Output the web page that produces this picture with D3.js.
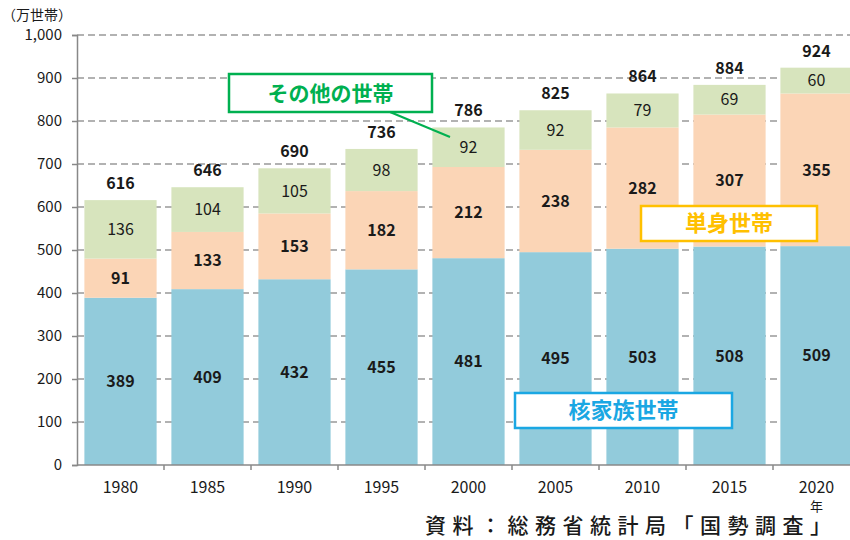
<!DOCTYPE html>
<html>
<head>
<meta charset="utf-8">
<script src="https://cdn.jsdelivr.net/npm/d3@7"></script>
<style>
    body { margin: 0; background: white; }
    svg { display: block; font-family: "Noto Sans CJK JP", "Noto Sans", sans-serif; }
</style>
</head>
<body>
<svg></svg>
<script>
"use strict";

var years = ['1980', '1985', '1990', '1995', '2000', '2005', '2010', '2015', '2020'];
var nuclear = [389, 409, 432, 455, 481, 495, 503, 508, 509];
var single = [91, 133, 153, 182, 212, 238, 282, 307, 355];
var other = [136, 104, 105, 98, 92, 92, 79, 69, 60];
var totals = [616, 646, 690, 736, 786, 825, 864, 884, 924];
var yTicks = [0, 100, 200, 300, 400, 500, 600, 700, 800, 900, 1000];

var settings = {
    svg: { width: 850, height: 540 },
    plot: { left: 77, top: 35, bottom: 465, right: 860 },
    colors: {
        nuclear: '#92cbdb',
        single: '#fbd5b6',
        other: '#d7e4bd',
        grid: '#999',
        axis: '#888',
        text: '#1a1a1a'
    }
};

var svg = d3.select('svg')
    .attr('width', settings.svg.width)
    .attr('height', settings.svg.height);

var x = d3.scaleBand()
    .domain(years)
    .range([settings.plot.left, settings.plot.right])
    .paddingInner(0.17)
    .paddingOuter(0.085);

var y = d3.scaleLinear()
    .domain([0, 1000])
    .range([settings.plot.bottom, settings.plot.top]);

// dashed grid behind the bars
svg.append('g')
    .selectAll('line')
    .data(yTicks.slice(1))
    .enter()
    .append('line')
    .attr('x1', settings.plot.left)
    .attr('x2', settings.svg.width)
    .attr('y1', d => y(d))
    .attr('y2', d => y(d))
    .attr('stroke', settings.colors.grid)
    .attr('stroke-width', 1.5)
    .attr('stroke-dasharray', '7,4');

// stacked segments
var stackData = years.map((yr, i) => ({
    year: yr, nuclear: nuclear[i], single: single[i], other: other[i], total: totals[i]
}));
var keys = ['nuclear', 'single', 'other'];
var series = d3.stack().keys(keys)(stackData);

var layers = svg.append('g')
    .selectAll('g')
    .data(series)
    .enter()
    .append('g')
    .attr('fill', d => settings.colors[d.key]);

layers.selectAll('rect')
    .data(d => d)
    .enter()
    .append('rect')
    .attr('x', d => x(d.data.year))
    .attr('y', d => y(d[1]))
    .attr('width', x.bandwidth())
    .attr('height', d => y(d[0]) - y(d[1]));

layers.selectAll('text')
    .data(d => d.map(p => ({ p: p, key: d.key })))
    .enter()
    .append('text')
    .attr('x', d => x(d.p.data.year) + x.bandwidth() / 2)
    .attr('y', d => (y(d.p[0]) + y(d.p[1])) / 2)
    .attr('dy', '0.36em')
    .attr('text-anchor', 'middle')
    .attr('fill', settings.colors.text)
    .style('font-size', '16px')
    .style('font-weight', d => d.key === 'other' ? 400 : 700)
    .text(d => d.p.data[d.key]);

// totals above bars
svg.append('g')
    .selectAll('text')
    .data(stackData)
    .enter()
    .append('text')
    .attr('x', d => x(d.year) + x.bandwidth() / 2)
    .attr('y', d => y(d.total) - 11)
    .attr('text-anchor', 'middle')
    .attr('fill', settings.colors.text)
    .style('font-size', '16px')
    .style('font-weight', 700)
    .text(d => d.total);

// axes
var yAxis = svg.append('g')
    .attr('transform', `translate(${settings.plot.left},0)`)
    .call(d3.axisLeft(y).tickValues(yTicks).tickSize(5).tickPadding(10).tickFormat(d3.format(',')));
yAxis.select('.domain').attr('stroke', settings.colors.axis).attr('stroke-width', 1.5);
yAxis.selectAll('.tick line').attr('stroke', settings.colors.axis).attr('stroke-width', 1.5);
yAxis.selectAll('.tick text')
    .attr('fill', settings.colors.text)
    .style('font-size', '15px')
    .style('font-family', '"Noto Sans CJK JP", sans-serif');

svg.append('line')
    .attr('x1', settings.plot.left)
    .attr('x2', settings.svg.width)
    .attr('y1', settings.plot.bottom)
    .attr('y2', settings.plot.bottom)
    .attr('stroke', settings.colors.axis)
    .attr('stroke-width', 1.5);

svg.append('g')
    .selectAll('line')
    .data(years.slice(1))
    .enter()
    .append('line')
    .attr('x1', d => x(d) - x.step() * x.paddingInner() / 2)
    .attr('x2', d => x(d) - x.step() * x.paddingInner() / 2)
    .attr('y1', settings.plot.bottom)
    .attr('y2', settings.plot.bottom + 5)
    .attr('stroke', settings.colors.axis)
    .attr('stroke-width', 1.5);

svg.append('g')
    .selectAll('text')
    .data(years)
    .enter()
    .append('text')
    .attr('x', d => x(d) + x.bandwidth() / 2)
    .attr('y', 493)
    .attr('text-anchor', 'middle')
    .attr('fill', settings.colors.text)
    .style('font-size', '16px')
    .text(d => d);

svg.append('text')
    .attr('x', x('2020') + x.bandwidth() / 2)
    .attr('y', 511)
    .attr('text-anchor', 'middle')
    .attr('fill', settings.colors.text)
    .style('font-size', '13px')
    .text('年');

svg.append('text')
    .attr('x', 2)
    .attr('y', 20)
    .attr('fill', settings.colors.text)
    .style('font-size', '14px')
    .text('（万世帯）');

// legend call-outs
var callouts = [
    { label: 'その他の世帯', x: 229, y: 74, w: 203, h: 38, color: '#00b050', size: 21 },
    { label: '単身世帯', x: 641, y: 206, w: 176, h: 35, color: '#ffc000', size: 22 },
    { label: '核家族世帯', x: 515, y: 393, w: 217, h: 35, color: '#1aa7e3', size: 22 }
];

svg.append('line')
    .attr('x1', 390).attr('y1', 112)
    .attr('x2', 450).attr('y2', 137)
    .attr('stroke', '#00b050')
    .attr('stroke-width', 2);

var boxes = svg.append('g')
    .selectAll('g')
    .data(callouts)
    .enter()
    .append('g');

boxes.append('rect')
    .attr('x', d => d.x)
    .attr('y', d => d.y)
    .attr('width', d => d.w)
    .attr('height', d => d.h)
    .attr('fill', 'white')
    .attr('stroke', d => d.color)
    .attr('stroke-width', 2.5);

boxes.append('text')
    .attr('x', d => d.x + d.w / 2)
    .attr('y', d => d.y + d.h / 2)
    .attr('dy', '0.36em')
    .attr('text-anchor', 'middle')
    .attr('fill', d => d.color)
    .style('font-size', d => d.size + 'px')
    .style('font-weight', 700)
    .text(d => d.label);

// source line
svg.append('text')
    .attr('x', 425)
    .attr('y', 533)
    .attr('fill', settings.colors.text)
    .style('font-size', '21px')
    .style('font-weight', 500)
    .style('letter-spacing', '6.5px')
    .text('資料：総務省統計局「国勢調査」');
</script>
</body>
</html>
